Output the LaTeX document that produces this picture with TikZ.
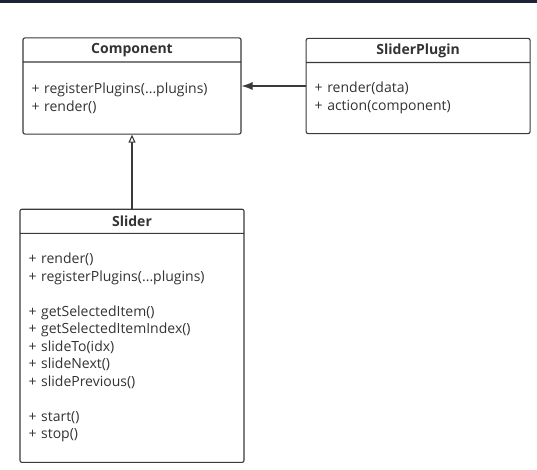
\documentclass[tikz,border=0pt]{standalone}
\usepackage{fontspec}
\setmainfont{Open Sans}
\usepackage{xcolor}
\usetikzlibrary{positioning,shapes.multipart,arrows.meta}

\definecolor{umlline}{HTML}{3A3A3A}
\definecolor{umltext}{HTML}{333333}
\definecolor{topbar}{HTML}{1E2338}

\newcommand{\classhead}[1]{\parbox[c][23pt][c]{\linewidth}{\centering\bfseries #1}}
\newcommand{\classbody}[2]{\parbox[c][#1][c]{\linewidth}{\raggedright #2}}

\tikzset{
  umlclass/.style={rectangle split, rectangle split parts=2, draw=umlline, line width=1.1pt,
    rounded corners=2pt, fill=white, inner xsep=8.5pt, inner ysep=0pt, text=umltext,
    font=\fontsize{14}{17.5}\selectfont},
  assoc/.style={draw=umlline, line width=1.1pt, -{Latex[length=11pt,width=8pt]}},
  inherit/.style={draw=umlline, line width=1.1pt, -{Triangle[open,length=8pt,width=7pt,fill=white]}},
}

\begin{document}
\begin{tikzpicture}
\useasboundingbox[fill=white] (0,0) rectangle (537pt,-469pt);
\fill[topbar] (0,0) rectangle (537pt,-2.5pt);

\node (component) [umlclass, text width=201pt] at (132pt,-86pt)
  {\classhead{Component}\nodepart{two}\classbody{71pt}{+ registerPlugins(...plugins)\\ + render()}};
\node (plugin) [umlclass, text width=207pt, right=64pt of component]
  {\classhead{SliderPlugin}\nodepart{two}\classbody{70pt}{+ render(data)\\ + action(component)}};
\node (slider) [umlclass, text width=207pt, below=74pt of component]
  {\classhead{Slider}\nodepart{two}\classbody{228pt}{+ render()\\ + registerPlugins(...plugins)\\[17.5pt]
   + getSelectedItem()\\ + getSelectedItemIndex()\\ + slideTo(idx)\\ + slideNext()\\ + slidePrevious()\\[17.5pt]
   + start()\\ + stop()}};

\draw[assoc] (plugin) -- (component);
\draw[inherit] (slider) -- (component);
\end{tikzpicture}
\end{document}
